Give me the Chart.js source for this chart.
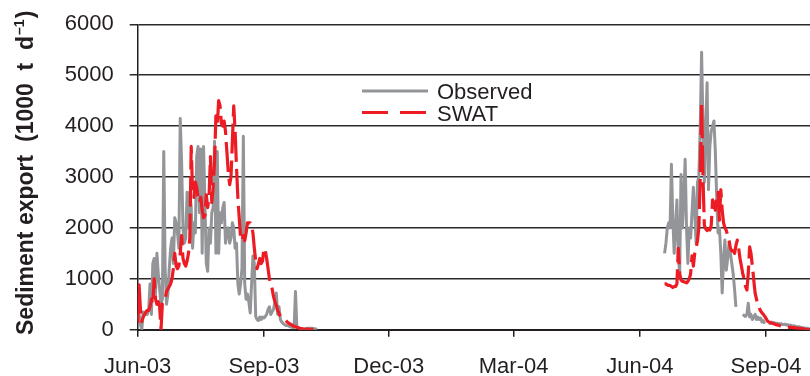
<!DOCTYPE html>
<html>
<head>
<meta charset="utf-8">
<title>Sediment export</title>
<script src="https://cdn.jsdelivr.net/npm/chart.js@4.4.1/dist/chart.umd.min.js"></script>
<style>
  html, body { margin: 0; padding: 0; background: #fff; }
  #chart { display: block; }
</style>
</head>
<body>
<canvas id="chart" width="810" height="376"></canvas>
<script>
// --- Datos: días desde el 1 jun 2003, exportación diaria (1000 t/d) ---
const tickDays = [0, 92, 183, 274, 366, 458];
const tickLabels = ['Jun-03', 'Sep-03', 'Dec-03', 'Mar-04', 'Jun-04', 'Sep-04'];
const yTicks = [0, 1000, 2000, 3000, 4000, 5000, 6000];

const start2003 = 0;   // 1 jun 2003
const start2004 = 384; // 19 jun 2004

const observed2003 = [
    200, 300, 100, 0, 350, 300, 350, 300, 400, 900,
    300, 1300, 1400, 700, 1500, 1100, 800, 500, 600, 3500,
    1200, 500, 700, 1200, 1600, 1800, 1300, 2200, 2100, 1900,
    1600, 4150, 3300, 2000, 1700, 1800, 2700, 2000, 2700, 2400,
    1600, 2100, 1900, 3400, 3600, 2300, 3550, 1500, 3600, 2500,
    1300, 1150, 2000, 1700, 2300, 2400, 3700, 1500, 3500, 1500,
    2300, 2100, 2400, 2500, 1700, 1900, 2000, 1700, 1800, 2100,
    2000, 1600, 1700, 900, 700, 900, 1200, 3800, 900, 600,
    700, 550, 330, 900, 1450, 1300, 260, 200, 180, 250,
    200, 250, 230, 260, 300, 400, 450, 300, 350, 400,
    550, 720, 300, 450, 200, 150, 120, 100, 80, 90,
    70, 60, 50, 40, 40, 750, 50, 40, 30, 20,
    20, 10, 10, 20, 30, 30, 30, 30, 20, 20, 10, 10
];

const swat2003 = [
    130, 880, 400, 160, 250, 300, 350, 380, 380, 450,
    600, 500, 1000, 600, 500, 550, 450, 0, 520, 550,
    600, 750, 800, 850, 900, 1000, 1200, 1500, 1250, 1200,
    1250, 1500, 1850, 1400, 1300, 1250, 1350, 1500, 1800, 3600,
    2700, 2600, 2900, 2800, 2600, 2500, 2600, 2350, 2200, 2250,
    2650, 2400, 2600, 3400, 2500, 2800, 3300, 4200, 4000, 4500,
    4400, 4050, 4000, 4100, 3900, 3500, 3100, 2850, 3000, 3700,
    4400, 3900, 3200, 2600, 2200, 1800, 1750, 1850, 1750, 1900,
    2100, 2100, 2100, 2050, 1900, 1600, 1350, 1200, 1300, 1400,
    1300, 1350, 1600, 1550, 1400, 1200, 1000, 900, 800, 650,
    550, 480, 380, 320, 270, 250, 220, 200, 180, 150,
    130, 110, 100, 80, 70, 60, 50, 40, 30, 20,
    15, 10, 10, 10, 10, 8, 8, 5, 5, 5, 5, 5
];

const observed2004 = [
    1500, 1700, 2000, 2100, 2000, 3250, 2200, 1500, 2000, 2550,
    1500, 1100, 3050, 2000, 2600, 3350, 2000, 1300, 2000, 1800,
    2300, 2800, 2300, 1700, 2900, 3000, 4000, 5450, 4000, 2900,
    4000, 4850, 2750, 3600, 3900, 4000, 4100, 3500, 2600, 1900,
    2000, 1500, 720, 1400, 1760, 1170, 1400, 1700, 1500, 1300,
    1100, 800, 450, null, 500, null, null, 300, 280, 260,
    300, 520, 250, 300, 200, 250, 300, 200, 250, 200,
    230, 150, 180, 120, null, null, 130, 120, 150, 120,
    140, 110, 130, 120, 110, 120, 100, 100, 110, 90,
    100, 80, 90, 70, 80, 70, 60, 60, 60, 50,
    40, 40, 30, 30, 30, 20, 20
];

const swat2004 = [
    900, 900, 880, 870, 870, 850, 830, 850, 850, 900,
    1600, 1100, 980, 950, 940, 930, 920, 950, 1000, 1100,
    1450, 1250, 1500, 1600, 1750, 2000, 3000, 4450, 3000, 2050,
    1980, 1950, 1980, 1960, 2050, 2550, 2450, 2350, 2600, 2700,
    2150, 2750, 2350, 2100, 2000, 1950, 1850, 1750, 1600, 1550,
    1550, 1500, 1650, 1760, 1600, 1400, 1250, 1100, 1000, 850,
    780, 1100, 1630, 1500, 1250, 980, 720, 600, 480, 420,
    370, 330, 300, 260, 220, 170, 150, 140, 130, 120,
    110, 100, 95, 90, 80, 70, 65, 60, 55, 50,
    50, 45, 45, 40, 40, 35, 30, 30, 25, 20,
    20, 15, 10, 5, 0, 0, 0
];

// --- Estilos ---
const textColor = '#231f20';
const gridColor = '#2a2a2a';
const grayColor = '#939598';
const redColor = '#ed1c24';
const swatDash = [30, 7];
const legendDash = [26, 12];
const fontFamily = '"Liberation Sans", Arial, Helvetica, sans-serif';

function toPoints(first, values) {
    return values.map((v, i) => ({ x: first + i, y: v }));
}

// Las dos temporadas en una sola serie, cortadas con un null
function seasons(firstA, valuesA, firstB, valuesB) {
    const gapDay = firstA + valuesA.length;
    return toPoints(firstA, valuesA)
        .concat([{ x: gapDay, y: null }])
        .concat(toPoints(firstB, valuesB));
}

// Título del eje Y con superíndice
const yTitlePlugin = {
    id: 'yTitle',
    afterDraw(chart) {
        const ctx = chart.ctx;
        ctx.save();
        ctx.translate(33, 335);
        ctx.rotate(-Math.PI / 2);
        ctx.fillStyle = textColor;
        ctx.textAlign = 'left';
        ctx.textBaseline = 'alphabetic';
        const main = 'Sediment export  (1000  t  d';
        ctx.font = `bold 23px ${fontFamily}`;
        ctx.fillText(main, 0, 0);
        let x = ctx.measureText(main).width;
        ctx.font = `bold 14px ${fontFamily}`;
        ctx.fillText('\u20131', x + 1, -9);
        x += ctx.measureText('\u20131').width + 2;
        ctx.font = `bold 23px ${fontFamily}`;
        ctx.fillText(')', x, 0);
        ctx.restore();
    }
};

// Leyenda dentro del área del gráfico
const legendPlugin = {
    id: 'innerLegend',
    afterDraw(chart) {
        const ctx = chart.ctx;
        const items = chart.data.datasets.slice().sort((a, b) => b.order - a.order);
        ctx.save();
        items.forEach((ds, i) => {
            const y = 91 + i * 21.5;
            ctx.strokeStyle = ds.borderColor;
            ctx.lineWidth = ds.borderWidth;
            ctx.setLineDash(ds.borderDash ? legendDash : []);
            ctx.beginPath();
            ctx.moveTo(362, y);
            ctx.lineTo(428, y);
            ctx.stroke();
            ctx.setLineDash([]);
            ctx.fillStyle = textColor;
            ctx.font = `22px ${fontFamily}`;
            ctx.textBaseline = 'alphabetic';
            ctx.fillText(ds.label, 437, y + 8);
        });
        ctx.restore();
    }
};

const ctx = document.getElementById('chart').getContext('2d');
new Chart(ctx, {
    type: 'line',
    data: {
        datasets: [{
            label: 'Observed',
            data: seasons(start2003, observed2003, start2004, observed2004),
            borderColor: grayColor,
            borderWidth: 3,
            pointRadius: 0,
            tension: 0,
            spanGaps: false,
            borderJoinStyle: 'round',
            order: 1
        }, {
            label: 'SWAT',
            data: seasons(start2003, swat2003, start2004, swat2004),
            borderColor: redColor,
            borderWidth: 3.2,
            borderDash: swatDash,
            pointRadius: 0,
            tension: 0,
            spanGaps: false,
            borderJoinStyle: 'round',
            order: 0
        }]
    },
    options: {
        responsive: false,
        animation: false,
        events: [],
        layout: { padding: { top: 24.3, right: 0, bottom: 0, left: 0 } },
        plugins: {
            legend: { display: false },
            tooltip: { enabled: false },
            title: { display: false }
        },
        scales: {
            x: {
                type: 'linear',
                min: 0,
                max: 490,
                afterBuildTicks: scale => {
                    scale.ticks = tickDays.map(value => ({ value }));
                },
                afterFit: scale => {
                    scale.height = 46.3;
                    scale.paddingLeft = 0;
                    scale.paddingRight = 0;
                },
                ticks: {
                    autoSkip: false,
                    maxRotation: 0,
                    padding: 17,
                    color: textColor,
                    font: { family: fontFamily, size: 22 },
                    callback: value => tickLabels[tickDays.indexOf(value)]
                },
                grid: {
                    drawOnChartArea: false,
                    drawTicks: true,
                    tickLength: 7,
                    color: textColor,
                    lineWidth: 1.5
                },
                border: { display: true, color: textColor, width: 2 }
            },
            y: {
                min: 0,
                max: 6000,
                afterBuildTicks: scale => {
                    scale.ticks = yTicks.map(value => ({ value }));
                },
                afterFit: scale => {
                    scale.width = 137.7;
                    scale.paddingTop = 0;
                    scale.paddingBottom = 0;
                },
                ticks: {
                    padding: 16,
                    color: textColor,
                    font: { family: fontFamily, size: 22 },
                    callback: value => String(value)
                },
                grid: {
                    color: gridColor,
                    lineWidth: 1.5,
                    tickLength: 8
                },
                border: { display: true, color: textColor, width: 1.5 }
            }
        }
    },
    plugins: [yTitlePlugin, legendPlugin]
});
</script>
</body>
</html>
